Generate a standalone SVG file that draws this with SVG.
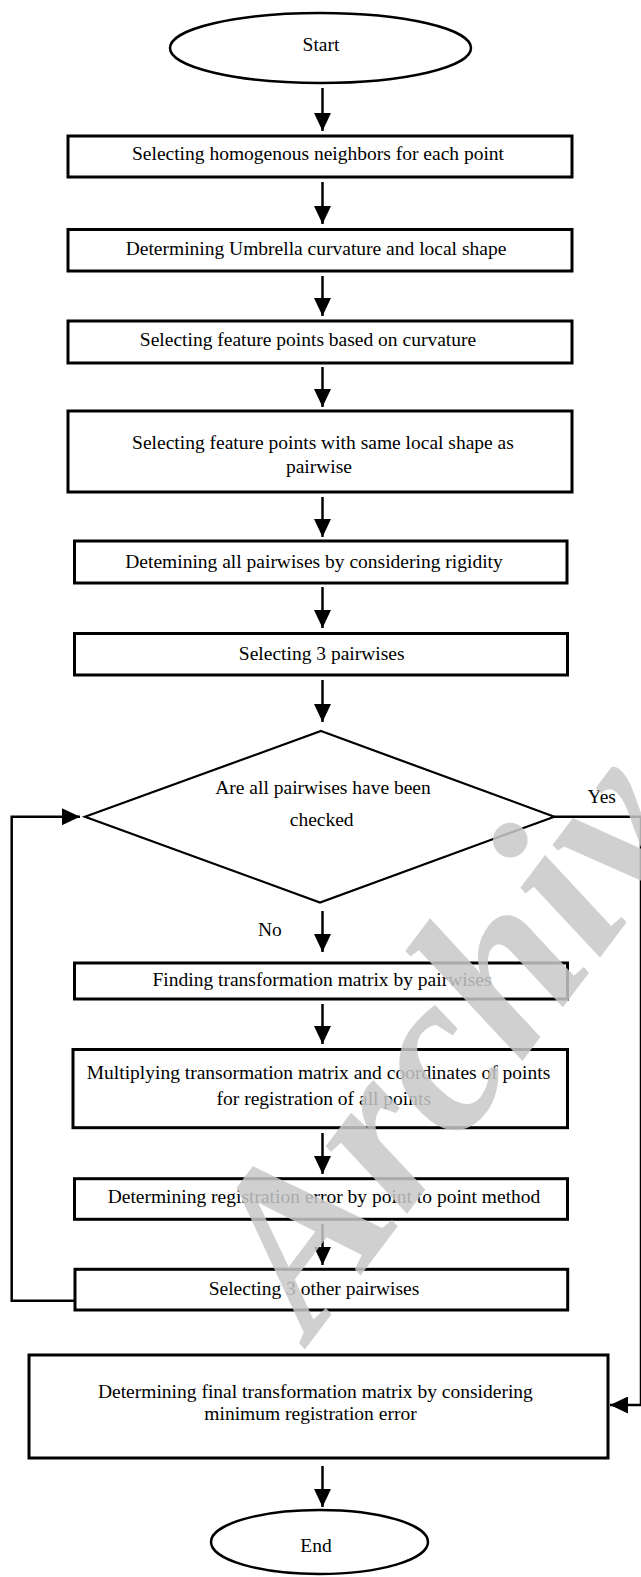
<svg xmlns="http://www.w3.org/2000/svg" width="641" height="1577" viewBox="0 0 641 1577">
<defs>
<style>
.box{fill:#fff;stroke:#000;stroke-width:3}
.term{fill:#fff;stroke:#000;stroke-width:2.5}
.dia{fill:#fff;stroke:#000;stroke-width:2.2}
.t{font-family:"Liberation Serif","Times New Roman",serif;font-size:19.5px;fill:#000;text-anchor:middle}
.tl{font-family:"Liberation Serif","Times New Roman",serif;font-size:19.5px;fill:#000}
.c{fill:none;stroke:#000;stroke-width:2.5}
.wm{font-family:"Liberation Serif","Times New Roman",serif;font-size:230px;font-weight:bold;font-style:italic;fill:#c8c8c8;opacity:0.85}
</style>
<marker id="ah" markerUnits="userSpaceOnUse" markerWidth="18" markerHeight="17" refX="18" refY="8.5" orient="auto">
<path d="M0,0 L18,8.5 L0,17 z" fill="#000"/>
</marker>
</defs>
<rect width="641" height="1577" fill="#fff"/>

<g id="connectors">
<path class="c" d="M322.5,88 V131" marker-end="url(#ah)"/>
<path class="c" d="M322.5,182 V224" marker-end="url(#ah)"/>
<path class="c" d="M322.5,276 V316" marker-end="url(#ah)"/>
<path class="c" d="M322.5,367 V407" marker-end="url(#ah)"/>
<path class="c" d="M322.5,497 V537" marker-end="url(#ah)"/>
<path class="c" d="M322.5,587 V628" marker-end="url(#ah)"/>
<path class="c" d="M322.5,680 V722" marker-end="url(#ah)"/>
<path class="c" d="M322.5,911 V952" marker-end="url(#ah)"/>
<path class="c" d="M322.5,1004 V1044" marker-end="url(#ah)"/>
<path class="c" d="M322.5,1133 V1174" marker-end="url(#ah)"/>
<path class="c" d="M322.5,1224 V1265" marker-end="url(#ah)"/>
<path class="c" d="M322.5,1466 V1507" marker-end="url(#ah)"/>
<path class="c" d="M75,1300.7 H11.7 V816.7 H80" marker-end="url(#ah)"/>
<path class="c" d="M554,816.7 H641"/>
<path class="c" stroke-width="2" d="M641,816.7 V1405"/>
<path class="c" d="M641,1405 H610" marker-end="url(#ah)"/>
<text class="tl" x="587.5" y="803">Yes</text>
<text class="tl" x="258" y="936">No</text>
</g>

<g id="start">
<ellipse class="term" cx="320.5" cy="48" rx="150.5" ry="35"/>
<text class="t" x="321" y="51">Start</text>
</g>
<g id="n1">
<rect class="box" x="68" y="136" width="504" height="41"/>
<text class="t" x="318" y="159.5">Selecting homogenous neighbors for each point</text>
</g>
<g id="n2">
<rect class="box" x="68" y="229.5" width="504" height="41.5"/>
<text class="t" x="316" y="255.3">Determining Umbrella curvature and local shape</text>
</g>
<g id="n3">
<rect class="box" x="68" y="321" width="504" height="42"/>
<text class="t" x="308" y="346">Selecting feature points based on curvature</text>
</g>
<g id="n4">
<rect class="box" x="68" y="411" width="504" height="81"/>
<text class="t" x="323" y="449">Selecting feature points with same local shape as</text>
<text class="t" x="319" y="473">pairwise</text>
</g>
<g id="n5">
<rect class="box" x="74.5" y="541" width="492.5" height="42"/>
<text class="t" x="314" y="568">Detemining all pairwises by considering rigidity</text>
</g>
<g id="n6">
<rect class="box" x="74.5" y="633.5" width="493" height="41.5"/>
<text class="t" x="321.7" y="660">Selecting 3 pairwises</text>
</g>
<g id="decision">
<polygon class="dia" points="321,731 554.3,816.7 320,902.5 85,816.7"/>
<text class="t" x="323" y="794">Are all pairwises have been</text>
<text class="t" x="321.7" y="826">checked</text>
</g>
<g id="n7">
<rect class="box" x="74.5" y="963" width="493" height="36"/>
<text class="t" x="322" y="986">Finding transformation matrix by pairwises</text>
</g>
<g id="n8">
<rect class="box" x="73" y="1049.5" width="494.5" height="78.2"/>
<text class="t" x="318.5" y="1079.3">Multiplying transormation matrix and coordinates of points</text>
<text class="t" x="323.8" y="1105">for registration of all points</text>
</g>
<g id="n9">
<rect class="box" x="74.5" y="1178.7" width="493" height="40.6"/>
<text class="t" x="324" y="1202.7">Determining registration error by point to point method</text>
</g>
<g id="n10">
<rect class="box" x="75" y="1269.3" width="492.7" height="40.7"/>
<text class="t" x="314" y="1295">Selecting 3 other pairwises</text>
</g>
<g id="n11">
<rect class="box" x="29" y="1355" width="579" height="103"/>
<text class="t" x="315.4" y="1398.3">Determining final transformation matrix by considering</text>
<text class="t" x="310.5" y="1420">minimum registration error</text>
</g>
<g id="end">
<ellipse class="term" cx="319.5" cy="1542" rx="108.5" ry="32"/>
<text class="t" x="316" y="1551.7">End</text>
</g>

<text class="wm" transform="translate(312,1340) rotate(-53)">Archiv</text>
</svg>
